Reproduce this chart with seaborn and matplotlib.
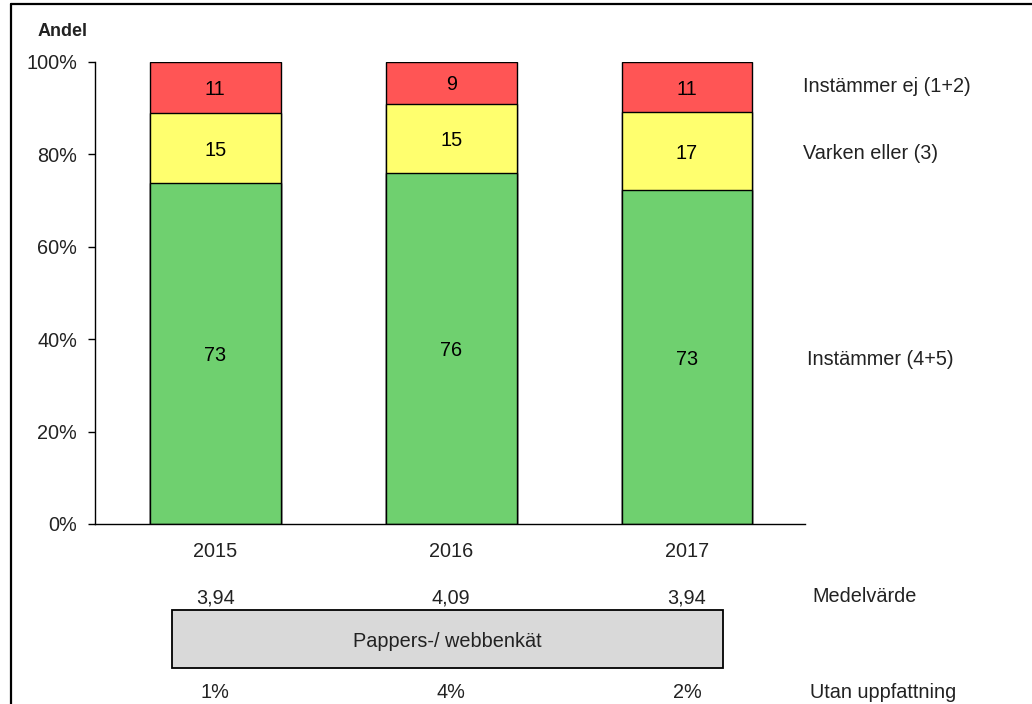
import numpy as np
import pandas as pd
import matplotlib
matplotlib.use("Agg")
import matplotlib.pyplot as plt
import matplotlib.transforms as mtransforms
from matplotlib.patches import Rectangle
from matplotlib.lines import Line2D
from matplotlib.ticker import PercentFormatter
import seaborn as sns

# ---- data ----
years = ["2015", "2016", "2017"]
agree = [73, 76, 73]          # Instämmer (4+5)
neither = [15, 15, 17]        # Varken eller (3)
disagree = [11, 9, 11]        # Instämmer ej (1+2)
means = ["3,94", "4,09", "3,94"]
no_opinion = ["1%", "4%", "2%"]
series_labels = ["Instämmer (4+5)", "Varken eller (3)", "Instämmer ej (1+2)"]
colors = ["#6FD06F", "#FFFF6E", "#FF5555"]

sns.set_theme(style="white")
plt.rcParams["font.family"] = ["Liberation Sans", "DejaVu Sans"]

tot = np.array(agree) + np.array(neither) + np.array(disagree)
g = np.array(agree) / tot
y = np.array(neither) / tot
r = np.array(disagree) / tot
cum1 = g
cum2 = g + y
cum3 = g + y + r

df = pd.DataFrame({"year": years, "c1": cum1, "c2": cum2, "c3": cum3})

fig = plt.figure(figsize=(10.32, 7.04), dpi=100)
ax = fig.add_axes([0.092, 0.2557, 0.688, 0.6563])

for col, colr in zip(["c3", "c2", "c1"], [colors[2], colors[1], colors[0]]):
    sns.barplot(data=df, x="year", y=col, order=years, color=colr, width=0.555,
                edgecolor="black", linewidth=1.0, saturation=1, ax=ax)

TXT = "#222222"
FS = 14.3

# segment labels
for i in range(3):
    ax.text(i, cum1[i] / 2, str(agree[i]), ha="center", va="center_baseline", fontsize=FS, color="black")
    ax.text(i, (cum1[i] + cum2[i]) / 2, str(neither[i]), ha="center", va="center_baseline", fontsize=FS, color="black")
    ax.text(i, (cum2[i] + cum3[i]) / 2, str(disagree[i]), ha="center", va="center_baseline", fontsize=FS, color="black")

ax.set_xlim(-0.51, 2.5)
ax.set_ylim(0, 1)
ax.set_yticks([0, 0.2, 0.4, 0.6, 0.8, 1.0])
ax.yaxis.set_major_formatter(PercentFormatter(1.0, decimals=0))
ax.set_xlabel("")
ax.set_ylabel("")
for s in ["top", "right"]:
    ax.spines[s].set_visible(False)
for s in ["left", "bottom"]:
    ax.spines[s].set_color("black")
    ax.spines[s].set_linewidth(1.0)
ax.tick_params(axis="y", left=True, length=5, width=1, color="black", labelsize=FS, pad=8, labelcolor=TXT)
ax.tick_params(axis="x", bottom=False, length=0, labelsize=FS, pad=13, labelcolor=TXT)

# right-side series labels aligned to last bar's segments
ax.text(2.49, (cum2[2] + cum3[2]) / 2 + 0.005, series_labels[2], ha="left", va="center_baseline", fontsize=FS, color=TXT, clip_on=False)
ax.text(2.49, (cum1[2] + cum2[2]) / 2, series_labels[1], ha="left", va="center_baseline", fontsize=FS, color=TXT, clip_on=False)
ax.text(2.51, cum1[2] / 2, series_labels[0], ha="left", va="center_baseline", fontsize=FS, color=TXT, clip_on=False)

# "Andel" title
fig.text(38 / 1032, 1 - 30 / 704, "Andel", ha="left", va="center_baseline", fontsize=13, fontweight="bold", color=TXT)

# rows below the axis
trans = mtransforms.blended_transform_factory(ax.transData, ax.transAxes)
for i in range(3):
    ax.text(i, -0.155, means[i], ha="center", va="center_baseline", fontsize=FS, color=TXT, transform=trans, clip_on=False)
    ax.text(i, -0.360, no_opinion[i], ha="center", va="center_baseline", fontsize=FS, color=TXT, transform=trans, clip_on=False)
ax.text(2.53, -0.152, "Medelvärde", ha="left", va="center_baseline", fontsize=FS, color=TXT, transform=trans, clip_on=False)
ax.text(2.52, -0.360, "Utan uppfattning", ha="left", va="center_baseline", fontsize=FS, color=TXT, transform=trans, clip_on=False)

box = Rectangle((-0.184, -0.312), 2.337, 0.126, transform=trans, facecolor="#d9d9d9",
                edgecolor="black", linewidth=1.3, clip_on=False)
ax.add_patch(box)
ax.text((-0.184 + 2.153) / 2, -0.251, "Pappers-/ webbenkät", ha="center", va="center_baseline",
        fontsize=FS, color=TXT, transform=trans, clip_on=False)

# outer frame (left and top)
fig.add_artist(Line2D([11 / 1032, 11 / 1032], [0, 1 - 4 / 704], transform=fig.transFigure, color="black", lw=1.6))
fig.add_artist(Line2D([11 / 1032, 1.0], [1 - 4 / 704, 1 - 4 / 704], transform=fig.transFigure, color="black", lw=1.6))

fig.savefig("out.png", dpi=100)
